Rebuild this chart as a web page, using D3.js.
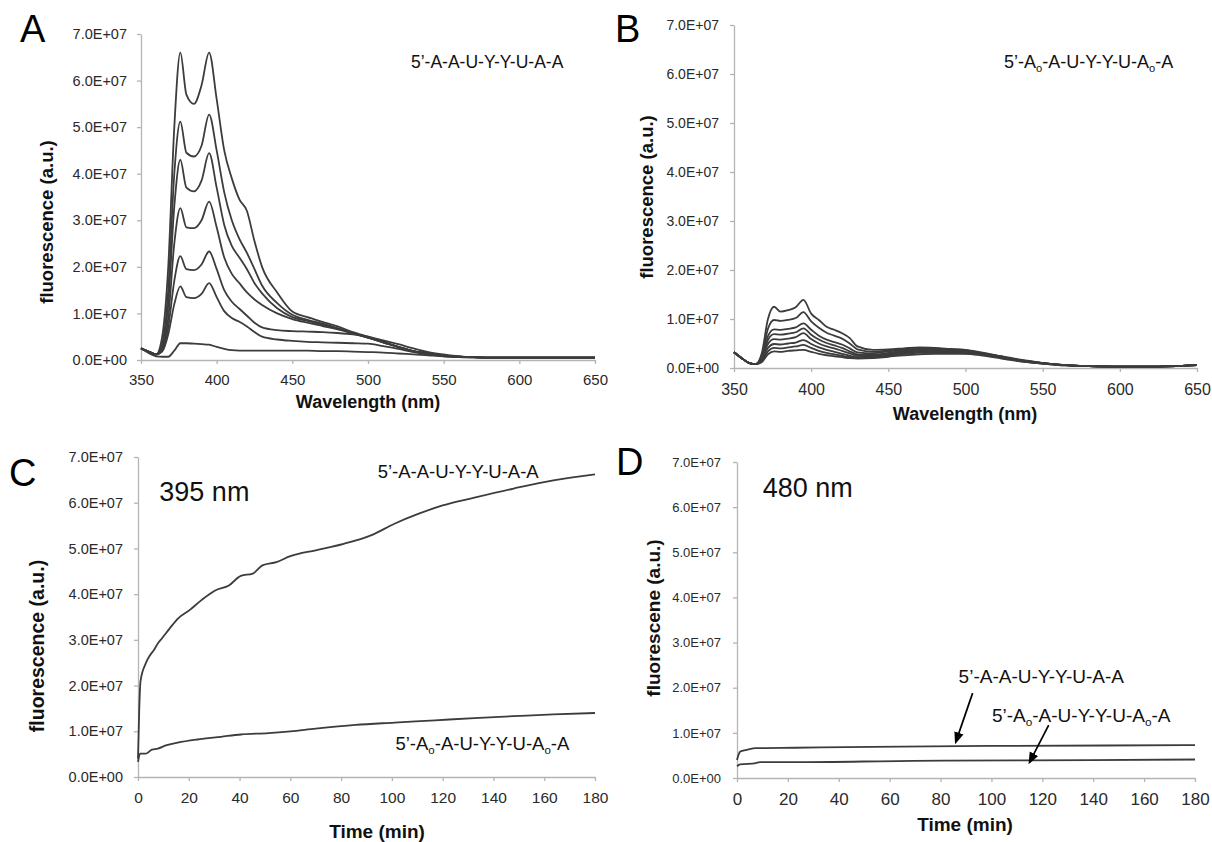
<!DOCTYPE html>
<html>
<head>
<meta charset="utf-8">
<script src="https://cdn.jsdelivr.net/npm/d3@7"></script>
<style>
  body { margin: 0; background: #fff; }
  svg { display: block; }
</style>
</head>
<body>
<svg id="fig" width="1212" height="842"></svg>
<script>
// values are in units of 1e7 (a.u.)
const UNIT = 1e7;

// --- panel A / B : emission spectra ---
const wavelengths = [350,355,360,364,368,372,376,380,385,390,395,400,405,410,415,420,425,430,440,450,460,470,480,490,500,510,520,530,540,550,560,570,580,600,620,650];

const spectraA = [
  [.25,.18,.12,.5,2.0,5.0,6.6,5.7,5.5,5.9,6.6,5.6,4.5,3.9,3.45,3.2,2.55,2.0,1.45,1.04,.92,.82,.72,.6,.5,.4,.28,.19,.14,.1,.07,.06,.05,.05,.05,.05],
  [.25,.18,.12,.35,1.5,4.0,5.12,4.45,4.37,4.6,5.27,4.5,3.6,3.0,2.6,2.3,1.95,1.6,1.22,.97,.86,.78,.68,.58,.48,.38,.28,.19,.14,.1,.07,.06,.05,.05,.05,.05],
  [.25,.18,.12,.3,1.2,3.3,4.3,3.7,3.62,3.85,4.44,3.7,2.9,2.45,2.2,1.95,1.65,1.43,1.11,.92,.84,.76,.68,.58,.48,.38,.28,.19,.14,.1,.07,.06,.05,.05,.05,.05],
  [.25,.18,.12,.25,.9,2.5,3.26,2.85,2.83,3.0,3.4,2.85,2.2,1.85,1.65,1.45,1.3,1.18,1.0,.88,.8,.73,.66,.57,.48,.38,.28,.19,.14,.1,.07,.06,.05,.05,.05,.05],
  [.25,.18,.12,.2,.7,1.7,2.23,1.95,1.93,2.05,2.33,1.95,1.5,1.25,1.1,.95,.8,.7,.64,.62,.61,.6,.58,.55,.5,.42,.34,.25,.17,.12,.08,.06,.05,.05,.05,.05],
  [.25,.18,.12,.18,.55,1.2,1.58,1.35,1.33,1.42,1.65,1.35,1.05,.9,.82,.72,.6,.5,.44,.41,.39,.38,.37,.36,.35,.3,.24,.17,.12,.08,.06,.05,.05,.05,.05,.05],
  [.25,.15,.08,.07,.07,.2,.36,.36,.35,.34,.33,.28,.24,.21,.2,.2,.2,.2,.2,.2,.2,.19,.19,.18,.17,.16,.14,.12,.1,.08,.07,.06,.05,.05,.05,.05]
];

const spectraB = [
  [.32,.2,.1,.08,.3,1.0,1.25,1.15,1.18,1.24,1.39,1.11,.98,.84,.78,.71,.61,.44,.37,.38,.4,.42,.41,.39,.37,.32,.26,.2,.15,.1,.07,.05,.04,.03,.03,.06],
  [.32,.2,.1,.08,.25,.8,.98,.96,.98,1.02,1.14,.95,.82,.72,.66,.6,.5,.38,.33,.36,.39,.41,.4,.38,.36,.31,.25,.19,.14,.1,.07,.05,.04,.03,.03,.06],
  [.32,.2,.1,.08,.22,.65,.79,.78,.8,.83,.91,.78,.66,.58,.53,.48,.4,.32,.3,.34,.37,.39,.38,.37,.35,.3,.25,.19,.14,.1,.07,.05,.04,.03,.03,.06],
  [.32,.2,.1,.08,.2,.57,.69,.68,.7,.73,.81,.68,.58,.51,.46,.41,.34,.28,.27,.31,.35,.37,.37,.36,.34,.3,.24,.18,.13,.1,.07,.05,.04,.03,.03,.06],
  [.32,.2,.1,.08,.18,.49,.59,.58,.6,.63,.71,.59,.5,.44,.4,.35,.3,.25,.25,.29,.33,.35,.35,.34,.33,.29,.24,.18,.13,.1,.07,.05,.04,.03,.03,.06],
  [.32,.2,.1,.08,.16,.41,.49,.48,.5,.52,.57,.49,.42,.37,.33,.29,.25,.22,.23,.27,.31,.33,.33,.33,.32,.28,.23,.18,.13,.09,.07,.05,.04,.03,.03,.06],
  [.32,.2,.1,.08,.14,.34,.41,.4,.42,.44,.47,.41,.35,.31,.28,.25,.22,.2,.21,.25,.29,.31,.31,.31,.3,.27,.22,.17,.12,.09,.06,.05,.04,.03,.03,.06],
  [.32,.2,.1,.08,.12,.28,.34,.33,.35,.36,.37,.33,.29,.26,.24,.22,.2,.19,.2,.23,.26,.28,.29,.29,.29,.26,.21,.16,.12,.09,.06,.05,.04,.03,.03,.06]
];

// --- panel C : kinetics at 395 nm ---
const timeC_AA  = [0,0.5,1,3,4.7,6.2,7.8,9.4,12.5,15.6,20.3,25,30.4,35.8,40.5,45.2,49,54.5,60,70,81,92,101,110.6,120,132.5,148,163.6,180];
const fluorC_AA = [0.4,1.5,2.1,2.48,2.66,2.77,2.92,3.03,3.25,3.46,3.65,3.87,4.08,4.19,4.4,4.45,4.63,4.7,4.83,4.96,5.1,5.29,5.54,5.76,5.94,6.11,6.31,6.49,6.62];
const timeC_Ao  = [0,0.8,3,5.5,7.8,11,15.6,23.4,32.7,40.5,51.4,60,70,85.7,101,117,132.5,148,163.6,180];
const fluorC_Ao = [0.33,0.51,0.51,0.6,0.62,0.69,0.75,0.82,0.88,0.93,0.96,1.0,1.06,1.14,1.19,1.24,1.29,1.33,1.37,1.4];

// --- panel D : kinetics at 480 nm ---
const timeD_AA  = [0,1.2,2.8,4.3,7.4,22.7,53,99,145,180];
const fluorD_AA = [0.4,0.58,0.61,0.63,0.66,0.67,0.69,0.71,0.72,0.73];
const timeD_Ao  = [0,1.2,7.4,9,22.7,69,115,180];
const fluorD_Ao = [0.26,0.3,0.33,0.35,0.35,0.38,0.39,0.41];

const yTicks = [0,1,2,3,4,5,6,7];
const wlTicks = [350,400,450,500,550,600,650];
const timeTicks = [0,20,40,60,80,100,120,140,160,180];

const SEQ_AA = "5’-A-A-U-Y-Y-U-A-A";
const SEQ_AO = "5’-A_o-A-U-Y-Y-U-A_o-A";

const svg = d3.select('#fig');
svg.append('rect').attr('width', 1212).attr('height', 842).attr('fill', '#fff');

const LINE = '#3c3c3c';
const AXIS = '#b4b4b4';
const SANS = '"Liberation Sans", Arial, Helvetica, sans-serif';

function sciFmt(v) {
  const [m, e] = (v * UNIT).toExponential(1).split('e');
  return m + 'E' + e[0] + e.slice(1).padStart(2, '0');
}

// writes a label; "_o" becomes a subscript o
function richText(g, str, size) {
  const t = g.append('text').attr('font-family', SANS).attr('font-size', size).attr('fill', '#111');
  const parts = str.split(/_(\w)/);
  parts.forEach((p, i) => {
    if (i % 2 === 0) {
      t.append('tspan').attr('dy', i === 0 ? 0 : -4).text(p);
    } else {
      t.append('tspan').attr('dy', 4).attr('font-size', size * 0.62).text(p);
    }
  });
  return t;
}

svg.append('defs').append('marker')
  .attr('id', 'arrowHead')
  .attr('viewBox', '0 0 10 10')
  .attr('refX', 8).attr('refY', 5)
  .attr('markerWidth', 7).attr('markerHeight', 7)
  .attr('orient', 'auto')
  .append('path').attr('d', 'M0,1 L10,5 L0,9 Z').attr('fill', '#000');

function drawPanel(cfg) {
  const x = d3.scaleLinear().domain(cfg.xDomain).range([cfg.left, cfg.right]);
  const y = d3.scaleLinear().domain([0, 7]).range([cfg.bottom, cfg.top]);
  const g = svg.append('g');

  // axes
  const yAxis = g.append('g').attr('transform', `translate(${cfg.left},0)`)
    .call(d3.axisLeft(y).tickValues(yTicks).tickSize(4).tickSizeOuter(0).tickPadding(cfg.yPad).tickFormat(sciFmt));
  const xAxis = g.append('g').attr('transform', `translate(0,${cfg.bottom})`)
    .call(d3.axisBottom(x).tickValues(cfg.xTicks).tickSize(4).tickSizeOuter(0).tickPadding(cfg.xPad));
  yAxis.attr('font-family', SANS).attr('font-size', cfg.yTickFont);
  xAxis.attr('font-family', SANS).attr('font-size', cfg.xTickFont);
  [yAxis, xAxis].forEach(a => {
    a.select('.domain').attr('stroke', AXIS).attr('stroke-width', 1.3);
    a.selectAll('.tick line').attr('stroke', AXIS).attr('stroke-width', 1.3);
    a.selectAll('.tick text').attr('fill', '#2a2a2a');
  });

  // data lines
  const line = d3.line().x(d => x(d[0])).y(d => y(d[1])).curve(d3.curveMonotoneX);
  cfg.series.forEach(s => {
    g.append('path')
      .datum(s.xs.map((v, i) => [v, s.ys[i]]))
      .attr('d', line)
      .attr('fill', 'none')
      .attr('stroke', LINE)
      .attr('stroke-width', 1.8)
      .attr('stroke-linejoin', 'round');
  });

  // axis titles
  g.append('text')
    .attr('transform', `translate(${cfg.yTitle[0]},${cfg.yTitle[1]}) rotate(-90)`)
    .attr('text-anchor', 'middle')
    .attr('font-family', SANS).attr('font-weight', 'bold').attr('font-size', cfg.yTitleSize)
    .attr('fill', '#111')
    .text(cfg.yTitleText);
  g.append('text')
    .attr('x', cfg.xTitle[0]).attr('y', cfg.xTitle[1])
    .attr('text-anchor', 'middle')
    .attr('font-family', SANS).attr('font-weight', 'bold').attr('font-size', cfg.xTitleSize)
    .attr('fill', '#111')
    .text(cfg.xTitleText);

  // panel letter
  g.append('text')
    .attr('x', cfg.letterPos[0]).attr('y', cfg.letterPos[1])
    .attr('font-family', SANS).attr('font-size', 38).attr('fill', '#000')
    .text(cfg.letter);

  // annotations
  cfg.labels.forEach(l => {
    richText(g, l.text, l.size).attr('x', x(l.at[0])).attr('y', y(l.at[1]));
  });

  (cfg.arrows || []).forEach(a => {
    g.append('line')
      .attr('x1', x(a.from[0])).attr('y1', y(a.from[1]))
      .attr('x2', x(a.to[0])).attr('y2', y(a.to[1]))
      .attr('stroke', '#000').attr('stroke-width', 1.7)
      .attr('marker-end', 'url(#arrowHead)');
  });
}

drawPanel({
  letter: 'A', letterPos: [20, 42],
  left: 141, right: 595, top: 34, bottom: 360,
  xDomain: [350, 650], xTicks: wlTicks,
  yPad: 10, xPad: 10, yTickFont: 14.5, xTickFont: 15,
  yTitleText: 'fluorescence (a.u.)', yTitle: [53, 222], yTitleSize: 18.5,
  xTitleText: 'Wavelength (nm)', xTitle: [368, 408], xTitleSize: 18,
  series: spectraA.map(s => ({ xs: wavelengths, ys: s })),
  labels: [{ text: SEQ_AA, at: [528.4, 6.27], size: 17.5 }]
});

drawPanel({
  letter: 'B', letterPos: [615, 42],
  left: 734, right: 1197, top: 25, bottom: 368,
  xDomain: [350, 650], xTicks: wlTicks,
  yPad: 11, xPad: 12, yTickFont: 14, xTickFont: 16,
  yTitleText: 'fluorescence (a.u.)', yTitle: [653, 197], yTitleSize: 18.5,
  xTitleText: 'Wavelength (nm)', xTitle: [965, 420], xTitleSize: 18,
  series: spectraB.map(s => ({ xs: wavelengths, ys: s })),
  labels: [{ text: SEQ_AO, at: [525, 6.12], size: 18 }]
});

drawPanel({
  letter: 'C', letterPos: [9, 486],
  left: 138, right: 595, top: 457, bottom: 777,
  xDomain: [0, 180], xTicks: timeTicks,
  yPad: 11, xPad: 11, yTickFont: 14.5, xTickFont: 15.5,
  yTitleText: 'fluorescence (a.u.)', yTitle: [44, 646], yTitleSize: 19.5,
  xTitleText: 'Time (min)', xTitle: [377, 838], xTitleSize: 19,
  series: [
    { xs: timeC_AA, ys: fluorC_AA },
    { xs: timeC_Ao, ys: fluorC_Ao }
  ],
  labels: [
    { text: '395 nm', at: [8.4, 6.04], size: 27 },
    { text: SEQ_AA, at: [94.4, 6.54], size: 18.5 },
    { text: SEQ_AO, at: [101.4, 0.59], size: 18.5 }
  ]
});

drawPanel({
  letter: 'D', letterPos: [616, 475],
  left: 737, right: 1195, top: 462, bottom: 778,
  xDomain: [0, 180], xTicks: timeTicks,
  yPad: 12, xPad: 11, yTickFont: 13, xTickFont: 17,
  yTitleText: 'fluorescene (a.u.)', yTitle: [660, 618], yTitleSize: 19,
  xTitleText: 'Time (min)', xTitle: [965, 831], xTitleSize: 19,
  series: [
    { xs: timeD_AA, ys: fluorD_AA },
    { xs: timeD_Ao, ys: fluorD_Ao }
  ],
  labels: [
    { text: '480 nm', at: [10.1, 6.22], size: 27 },
    { text: SEQ_AA, at: [87.1, 2.1], size: 19 },
    { text: SEQ_AO, at: [100.2, 1.24], size: 19 }
  ],
  arrows: [
    { from: [92.6, 1.88], to: [86, 0.8] },
    { from: [122.5, 1.17], to: [115, 0.35] }
  ]
});
</script>
</body>
</html>
